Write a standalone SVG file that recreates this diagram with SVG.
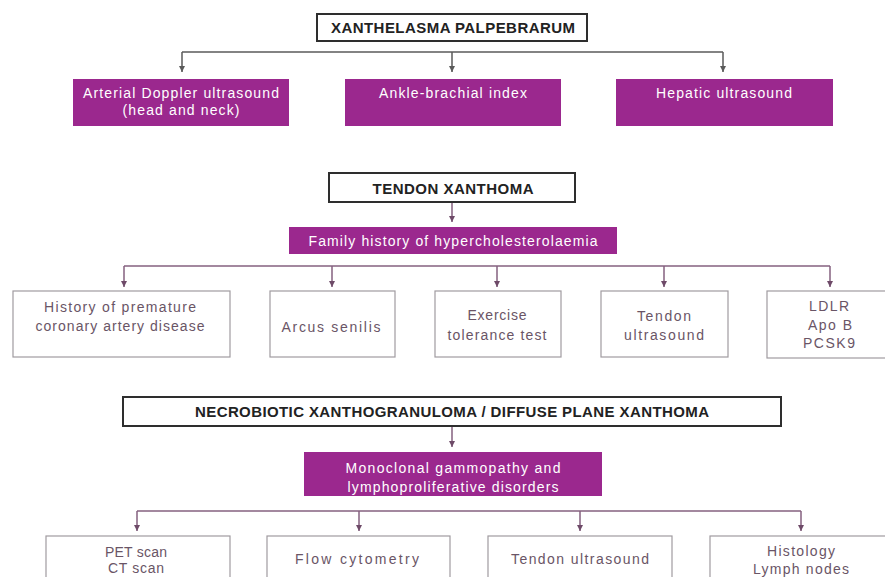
<svg xmlns="http://www.w3.org/2000/svg" width="885" height="577" viewBox="0 0 885 577">
<style>
.bg{fill:#ffffff}
.title rect{fill:#ffffff;stroke:#2e2e2e;stroke-width:2}
.title text{font-family:"Liberation Sans",Arial,sans-serif;font-weight:bold;font-size:15px;fill:#222222;text-anchor:middle}
.pur rect{fill:#9b288e}
.pur text{font-family:"Liberation Sans",Arial,sans-serif;font-size:14px;fill:#ffffff;text-anchor:middle}
.box rect{fill:#ffffff;stroke:#a09ba0;stroke-width:1.2}
.box text{font-family:"Liberation Sans",Arial,sans-serif;font-size:14px;fill:#6a5566;text-anchor:middle}
.c1{stroke:#5a5a5a;stroke-width:1.5;fill:none}
.c2{stroke:#85607f;stroke-width:1.5;fill:none}
</style>
<defs>
<marker id="a1" markerUnits="userSpaceOnUse" markerWidth="7" markerHeight="7" refX="6" refY="3" orient="auto"><path d="M0,0 L6,3 L0,6 z" fill="#5a5a5a"/></marker>
<marker id="a2" markerUnits="userSpaceOnUse" markerWidth="7" markerHeight="7" refX="6" refY="3" orient="auto"><path d="M0,0 L6,3 L0,6 z" fill="#6e4a68"/></marker>
</defs>
<rect class="bg" x="0" y="0" width="885" height="577"/>

<g id="connectors">
  <path class="c1" d="M182,52 H723"/>
  <path class="c1" d="M182,52 V72" marker-end="url(#a1)"/>
  <path class="c1" d="M452,52 V72" marker-end="url(#a1)"/>
  <path class="c1" d="M723,52 V72" marker-end="url(#a1)"/>

  <path class="c2" d="M452,202 V222" marker-end="url(#a2)"/>
  <path class="c2" d="M124,266 H830"/>
  <path class="c2" d="M124,266 V287" marker-end="url(#a2)"/>
  <path class="c2" d="M332,266 V287" marker-end="url(#a2)"/>
  <path class="c2" d="M497,266 V287" marker-end="url(#a2)"/>
  <path class="c2" d="M664,266 V287" marker-end="url(#a2)"/>
  <path class="c2" d="M830,266 V287" marker-end="url(#a2)"/>

  <path class="c2" d="M452,426 V447" marker-end="url(#a2)"/>
  <path class="c2" d="M137,511 H801"/>
  <path class="c2" d="M137,511 V531" marker-end="url(#a2)"/>
  <path class="c2" d="M359,511 V531" marker-end="url(#a2)"/>
  <path class="c2" d="M580,511 V531" marker-end="url(#a2)"/>
  <path class="c2" d="M801,511 V531" marker-end="url(#a2)"/>
</g>

<g id="xanthelasma" class="title">
  <rect x="317" y="14" width="270" height="27"/>
  <text x="453" y="33" textLength="244">XANTHELASMA PALPEBRARUM</text>
</g>
<g id="doppler" class="pur">
  <rect x="73" y="79" width="216" height="47"/>
  <text x="181" y="98" textLength="196">Arterial Doppler ultrasound</text>
  <text x="181" y="115" textLength="117">(head and neck)</text>
</g>
<g id="abi" class="pur">
  <rect x="345" y="79" width="216" height="47"/>
  <text x="453" y="98" textLength="148">Ankle-brachial index</text>
</g>
<g id="hepatic" class="pur">
  <rect x="616" y="79" width="217" height="47"/>
  <text x="724" y="98" textLength="136">Hepatic ultrasound</text>
</g>

<g id="tendon-xanthoma" class="title">
  <rect x="329" y="173" width="246" height="29"/>
  <text x="453" y="193.5" textLength="161">TENDON XANTHOMA</text>
</g>
<g id="family-history" class="pur">
  <rect x="289" y="227" width="328" height="27"/>
  <text x="453" y="246" textLength="289">Family history of hypercholesterolaemia</text>
</g>
<g id="premature-cad" class="box">
  <rect x="13" y="291" width="217" height="66"/>
  <text x="120" y="312" textLength="152">History of premature</text>
  <text x="120" y="330.5" textLength="169">coronary artery disease</text>
</g>
<g id="arcus" class="box">
  <rect x="270" y="291" width="125" height="66"/>
  <text x="331" y="332" textLength="99">Arcus senilis</text>
</g>
<g id="exercise" class="box">
  <rect x="435" y="291" width="126" height="66"/>
  <text x="497" y="320" textLength="59">Exercise</text>
  <text x="497" y="340" textLength="99">tolerance test</text>
</g>
<g id="tendon-us" class="box">
  <rect x="601" y="291" width="127" height="66"/>
  <text x="664" y="321" textLength="54">Tendon</text>
  <text x="664" y="340" textLength="80">ultrasound</text>
</g>
<g id="genes" class="box">
  <rect x="767" y="291" width="126" height="67"/>
  <text x="829" y="311" textLength="40">LDLR</text>
  <text x="830" y="330" textLength="44">Apo B</text>
  <text x="829" y="348" textLength="52">PCSK9</text>
</g>

<g id="necrobiotic" class="title">
  <rect x="123" y="397" width="658" height="29"/>
  <text x="452" y="417" textLength="514">NECROBIOTIC XANTHOGRANULOMA / DIFFUSE PLANE XANTHOMA</text>
</g>
<g id="monoclonal" class="pur">
  <rect x="304" y="452" width="298" height="44"/>
  <text x="453" y="472.5" textLength="215">Monoclonal gammopathy and</text>
  <text x="453" y="491.5" textLength="211">lymphoproliferative disorders</text>
</g>
<g id="pet-ct" class="box">
  <rect x="46" y="536" width="184" height="70"/>
  <text x="136" y="556.5" textLength="62">PET scan</text>
  <text x="136" y="572.5" textLength="56">CT scan</text>
</g>
<g id="flow" class="box">
  <rect x="267" y="536" width="183" height="70"/>
  <text x="357" y="563.5" textLength="124">Flow cytometry</text>
</g>
<g id="tendon-us-2" class="box">
  <rect x="488" y="536" width="184" height="70"/>
  <text x="580" y="563.5" textLength="138">Tendon ultrasound</text>
</g>
<g id="histology" class="box">
  <rect x="710" y="536" width="183" height="70"/>
  <text x="801" y="556" textLength="68">Histology</text>
  <text x="801" y="574" textLength="96">Lymph nodes</text>
</g>
</svg>
